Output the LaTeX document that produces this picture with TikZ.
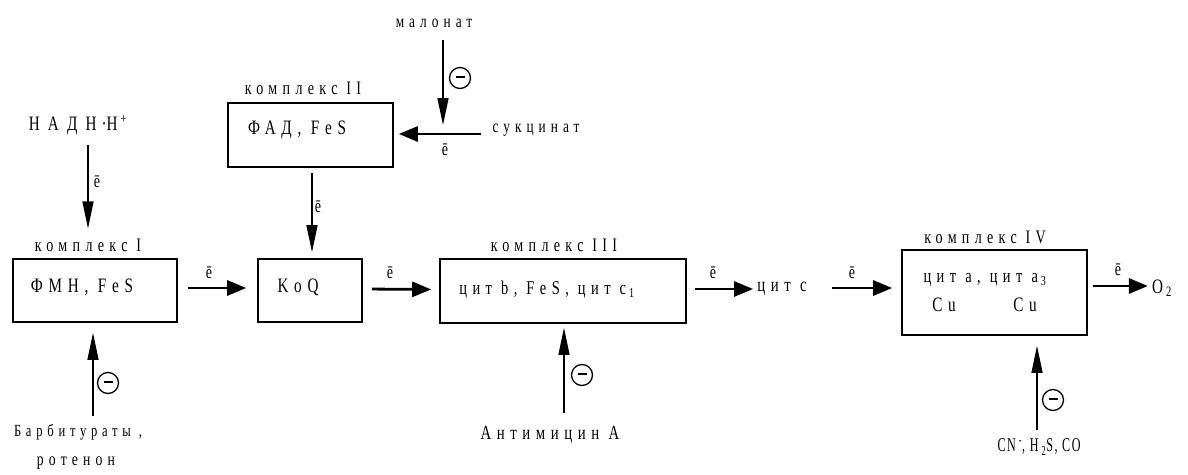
\documentclass[tikz,border=0pt]{standalone}
\usepackage{fontspec}
\setmainfont{Liberation Serif}[FakeStretch=0.74, LetterSpace=28]
\usetikzlibrary{arrows.meta}
\newcommand{\fsz}[1]{\fontsize{#1}{#1}\selectfont}
\newcommand{\gsub}[1]{\hspace{3pt}\textsubscript{#1}}
\newcommand{\gsup}[1]{\hspace{3pt}\textsuperscript{#1}}
\begin{document}
\begin{tikzpicture}[x=1pt,y=-1pt,
  boxn/.style={draw, line width=1.6pt, inner sep=0pt},
  txt/.style={inner sep=0pt, font=\fsz{20.5}},
  lbl/.style={inner sep=0pt, font=\fsz{19}},
  elbl/.style={inner sep=0pt, font=\fsz{19}},
  harr/.style={line width=2.8pt, -{Triangle[length=19pt, width=15pt]}},
  varr/.style={line width=1.3pt, -{Triangle[length=27pt, width=11pt]}},
  inh/.style={circle, draw, line width=1.3pt, minimum size=21pt, inner sep=0pt},
]
\useasboundingbox (0,0) rectangle (1188,474);
% boxes
\node[boxn, minimum width=164pt, minimum height=63pt] (b1) at (95,290.5) {};
\node[boxn, minimum width=104pt, minimum height=63pt] (koq) at (310,290.5) {};
\node[boxn, minimum width=246pt, minimum height=64pt] (b3) at (563,291) {};
\node[boxn, minimum width=185pt, minimum height=85pt] (b4) at (994.5,292.5) {};
\node[boxn, minimum width=165pt, minimum height=64pt] (b2) at (310.5,135) {};
% box texts
\node[txt] (t1) at (82,287) {ФМН, FeS};
\node[txt] (tkoq) at (298,287) {KoQ};
\node[txt, font=\fsz{19.5}] (t3) at (547,290) {цит b, FeS, цит c\gsub{1}};
\node[txt, font=\fsz{19.5}] (t4) at (985,280) {цит a, цит a\gsub{3}};
\node[txt] (cu1) at (944,305) {Cu};
\node[txt] (cu2) at (1025,305) {Cu};
\node[txt] (t2) at (297,130) {ФАД, FeS};
% complex labels
\node[lbl] (k1) at (88,245) {комплекс I};
\node[lbl] (k2) at (303,88) {комплекс II};
\node[lbl] (k3) at (554,245) {комплекс III};
\node[lbl] (k4) at (985,237) {комплекс IV};
% other texts
\node[txt, font=\fsz{20.5}\addfontfeature{LetterSpace=40}] (nadh) at (78,125) {НАДН\hspace{5pt}{\addfontfeature{LetterSpace=0}·}Н\gsup{+}};
\node[lbl, font=\fsz{18}] (malon) at (434,23) {малонат};
\node[lbl, font=\fsz{18}] (sukc) at (536,130) {сукцинат};
\node[lbl, font=\fsz{20}] (citc) at (782,289) {цит c};
\node[txt] (o2) at (1162,288) {O\gsub{2}};
\node[lbl, font=\fsz{17}] (barb) at (78,432) {Барбитураты ,};
\node[lbl, font=\fsz{18.5}] (roten) at (76,463) {ротенон};
\node[lbl, font=\fsz{20}] (anti) at (550,435) {Антимицин А};
\node[txt, font=\fsz{19.5}\addfontfeatures{FakeStretch=0.62, LetterSpace=8}] (cn) at (1039,447) {CN\gsup{-}, H\gsub{2}S, CO};
% e labels
\node[elbl] (e1) at (209,273) {ē};
\node[elbl] (e2) at (390,273) {ē};
\node[elbl] (e3) at (713,273) {ē};
\node[elbl] (e4) at (852,273) {ē};
\node[elbl] (e5) at (1118,270) {ē};
\node[elbl] (e6) at (97,182) {ē};
\node[elbl] (e7) at (318,207) {ē};
\node[elbl] (e8) at (445,150) {ē};
% inhibitor circles
\node[inh] (m1) at (108,383) {\raisebox{2pt}{\rule{9pt}{1.3pt}}};
\node[inh] (m2) at (582,375) {\raisebox{2pt}{\rule{9pt}{1.3pt}}};
\node[inh] (m3) at (1053,400) {\raisebox{2pt}{\rule{9pt}{1.3pt}}};
\node[inh] (m4) at (460,78) {\raisebox{2pt}{\rule{9pt}{1.3pt}}};
% horizontal arrows
\draw[harr, shorten <=10pt, shorten >=11pt] ([yshift=2.5pt]b1.east) -- ([yshift=2.5pt]koq.west);
\draw[harr, shorten <=9pt, shorten >=8pt] ([yshift=1.5pt]koq.east) -- ([yshift=1.5pt]b3.west);
\draw[harr, shorten <=8pt, shorten >=4pt] ([yshift=2pt]b3.east) -- ([yshift=2pt]b3.east -| citc.west);
\draw[harr, shorten <=25pt, shorten >=9pt] ([yshift=4.5pt]b4.west -| citc.east) -- ([yshift=4.5pt]b4.west);
\draw[harr, shorten <=5pt, shorten >=4pt] ([yshift=6.5pt]b4.east) -- ([yshift=6.5pt]b4.east -| o2.west);
\draw[harr, shorten <=11pt, shorten >=5pt] ([yshift=1pt]b2.east -| sukc.west) -- ([yshift=1pt]b2.east);
% vertical arrows
\draw[varr, shorten <=10pt, shorten >=10pt] (nadh.south -| k1) -- (k1.north);
\draw[varr, shorten <=5pt, shorten >=6pt] ([xshift=1.5pt]b2.south) -- ([xshift=1.5pt]b2.south |- koq.north);
\draw[varr, shorten <=12pt, shorten >=10pt] ([xshift=9pt]malon.south) -- ([xshift=9pt]malon.south |- b2.east);
\draw[varr, shorten <=8pt, shorten >=10pt] ([xshift=-2pt]b1.south |- barb.north) -- ([xshift=-2pt]b1.south);
\draw[varr, shorten <=13pt, shorten >=4pt] ([xshift=1pt]b3.south |- anti.north) -- ([xshift=1pt]b3.south);
\draw[varr, shorten <=9pt, shorten >=10pt] ([xshift=42.5pt]b4.south |- cn.north) -- ([xshift=42.5pt]b4.south);
\end{tikzpicture}
\end{document}
